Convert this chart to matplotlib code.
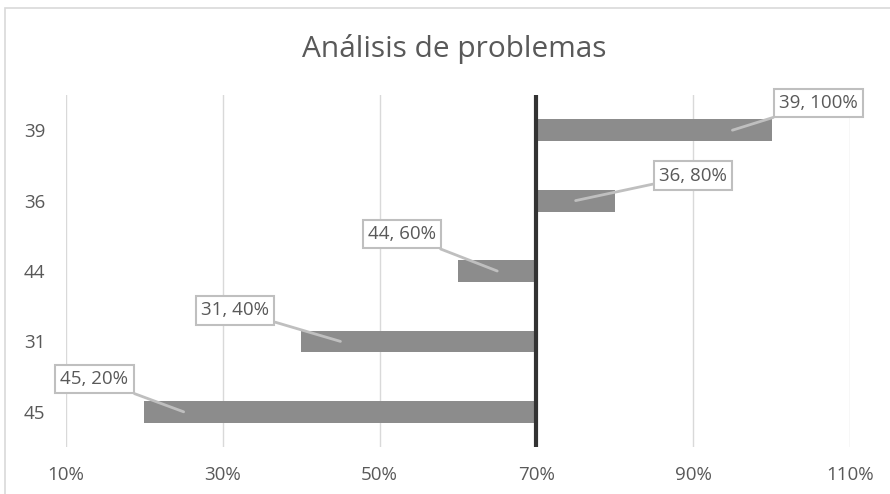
import matplotlib.pyplot as plt
from matplotlib.patches import Rectangle

plt.rcParams['font.family'] = ['Open Sans', 'DejaVu Sans']

categories = ["45", "31", "44", "36", "39"]
values = [20, 40, 60, 80, 100]
base = 70
xticks = [10, 30, 50, 70, 90, 110]

# label box offsets (pixels) from the end of each bar
label_offsets = [(-50, 33), (-66, 31), (-56, 37), (78, 25), (47, 27)]
# where the leader line touches each bar, relative to its end (in %)
point_shift = [5, 5, 5, -5, -5]

fig = plt.figure(figsize=(8.9, 4.94), dpi=100)
ax = fig.add_axes([0.0742, 0.0951, 0.8809, 0.7126])

fig.patches.append(Rectangle((5 / 890, -0.1), 1.2, (494 - 8) / 494 + 0.1,
                             transform=fig.transFigure, fill=False,
                             edgecolor='#d9d9d9', linewidth=1.2))

y = range(len(categories))
widths = [v - base for v in values]
ax.barh(y, widths, left=base, height=0.31, color='#8c8c8c', zorder=2)
ax.axvline(base, color='#333333', linewidth=3, zorder=3)

ax.set_xlim(10, 110)
ax.set_ylim(-0.5, len(categories) - 0.5)
ax.set_xticks(xticks)
ax.set_xticklabels([f"{t}%" for t in xticks])
ax.set_yticks(list(y))
ax.set_yticklabels(categories)
ax.grid(axis='x', color='#d9d9d9', linewidth=1, zorder=0)
ax.tick_params(length=0, colors='#595959', labelsize=13.5)
ax.tick_params(axis='x', pad=14)
ax.tick_params(axis='y', pad=15)
for s in ax.spines.values():
    s.set_visible(False)

for i, (cat, v) in enumerate(zip(categories, values)):
    dx, dy = label_offsets[i]
    ax.annotate(f"{cat}, {v}%", xy=(v + point_shift[i], i),
                xytext=(dx - point_shift[i] * 7.84, dy),
                textcoords='offset pixels', ha='center', va='center',
                fontsize=13.5, color='#595959', zorder=5,
                bbox=dict(boxstyle='square,pad=0.28', fc='white',
                          ec='#bfbfbf', lw=1.5),
                arrowprops=dict(arrowstyle='-', color='#bfbfbf', lw=2,
                                shrinkA=0, shrinkB=0))

fig.text(0.51, (494 - 57) / 494, "Análisis de problemas", ha='center',
         va='baseline', fontsize=21.5, color='#595959')

fig.savefig('out.png', dpi=100)
